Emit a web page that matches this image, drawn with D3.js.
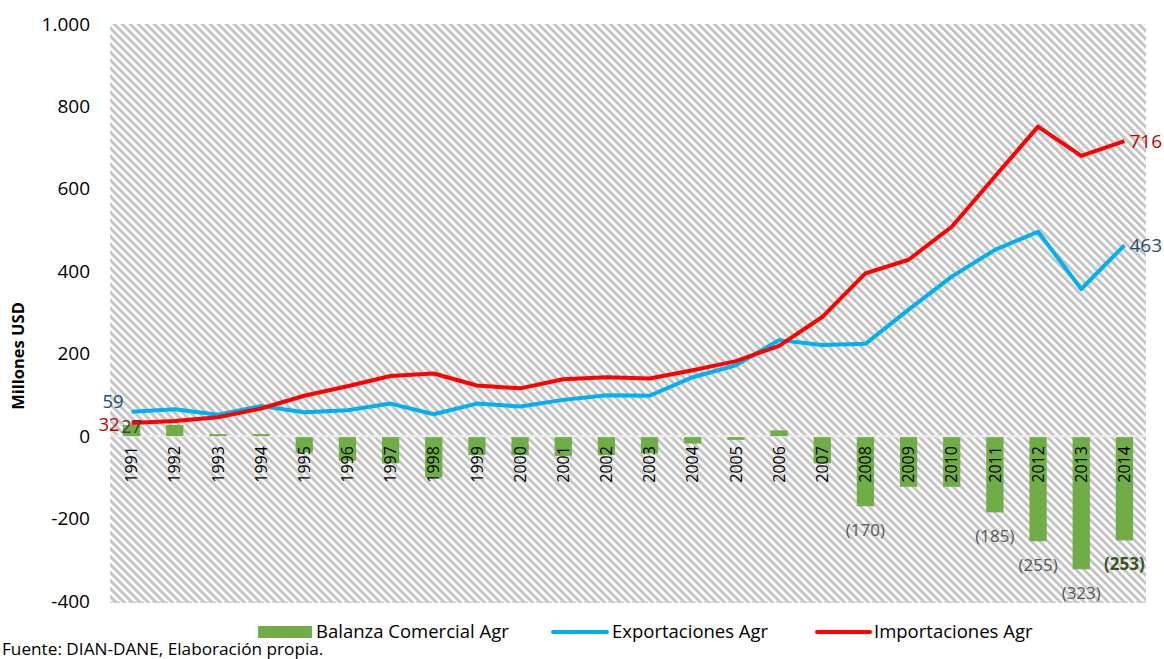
<!DOCTYPE html>
<html>
<head>
<meta charset="utf-8">
<script src="https://cdn.jsdelivr.net/npm/d3@7"></script>
<style>
  html, body { margin: 0; padding: 0; background: #ffffff; }
  svg { display: block; font-family: "Open Sans", "Noto Sans", sans-serif; }
</style>
</head>
<body>
<svg id="chart" width="1164" height="659"></svg>
<script>
// ---- data ----
const years = ["1991","1992","1993","1994","1995","1996","1997","1998","1999","2000","2001","2002",
               "2003","2004","2005","2006","2007","2008","2009","2010","2011","2012","2013","2014"];
const exportaciones = [59, 65, 52, 73, 58, 63, 79, 53, 79, 72, 88, 99,
                       98, 143, 172, 233, 221, 224, 307, 387, 452, 496, 357, 463];
const importaciones = [32, 37, 46, 67, 98, 121, 146, 152, 123, 116, 138, 143,
                       140, 160, 182, 219, 289, 395, 428, 508, 630, 751, 680, 716];
const balanza = [27, 27, 5, 5, -40, -60, -66, -100, -46, -46, -48, -46,
                 -42, -18, -9, 14, -66, -170, -123, -123, -185, -255, -323, -253];
const yTicks = [-400, -200, 0, 200, 400, 600, 800, 1000];
const barLabelYears = ["2008", "2011", "2012", "2013", "2014"];
const seriesNames = ["Balanza Comercial Agr", "Exportaciones Agr", "Importaciones Agr"];

(function () {
// ---- layout ----
const svg = d3.select("#chart");
const pLeft = 110, pRight = 1146, pTop = 24, pBottom = 601;

const x = d3.scaleBand().domain(years).range([pLeft, pRight]).paddingInner(0.6).paddingOuter(0.3);
const y = d3.scaleLinear().domain([-400, 1000]).range([pBottom, pTop]);
const cx = d => x(d) + x.bandwidth() / 2;

// hatch pattern
const defs = svg.append("defs");
const pat = defs.append("pattern")
  .attr("id", "hatch").attr("patternUnits", "userSpaceOnUse")
  .attr("width", 5.66).attr("height", 10)
  .attr("patternTransform", "rotate(-45)");
pat.append("rect").attr("width", 5.66).attr("height", 10).attr("fill", "#ffffff");
pat.append("rect").attr("width", 3.0).attr("height", 10).attr("fill", "#c4c4c4");

svg.append("rect").attr("x", pLeft).attr("y", pTop)
  .attr("width", pRight - pLeft).attr("height", pBottom - pTop + 2)
  .attr("fill", "url(#hatch)");

// y axis (labels only)
const yAxis = d3.axisLeft(y).tickValues(yTicks).tickSize(0).tickPadding(0)
  .tickFormat(d => d3.format(",")(d).replace(/,/g, ".").replace("\u2212", "-"));
const gy = svg.append("g").attr("transform", `translate(90,0)`).call(yAxis);
gy.select(".domain").remove();
gy.selectAll("text").attr("font-size", 19).attr("fill", "#000").attr("font-family", "Open Sans");

// axis title
svg.append("text")
  .attr("transform", `translate(24,356) rotate(-90)`)
  .attr("text-anchor", "middle")
  .attr("font-size", 16.5).attr("font-weight", "bold").attr("fill", "#000")
  .text("Millones USD");

// zero line & bottom line
svg.append("line").attr("x1", pLeft).attr("x2", pRight).attr("y1", y(0)).attr("y2", y(0))
  .attr("stroke", "#ececec").attr("stroke-width", 2);
svg.append("line").attr("x1", pLeft).attr("x2", pRight).attr("y1", pBottom + 1).attr("y2", pBottom + 1)
  .attr("stroke", "#d0d0d0").attr("stroke-width", 1.5).attr("stroke-dasharray", "4,2");

// bars
svg.append("g").selectAll("rect").data(years).join("rect")
  .attr("x", d => x(d))
  .attr("width", x.bandwidth())
  .attr("y", (d, i) => balanza[i] >= 0 ? y(balanza[i]) : y(0) + 1)
  .attr("height", (d, i) => Math.max(1.5, Math.abs(y(balanza[i]) - y(0)) - (balanza[i] < 0 ? 1 : 0)))
  .attr("fill", "#70ad47");

// year labels (rotated)
const xAxis = d3.axisBottom(x).tickSize(0).tickPadding(0);
const gx = svg.append("g").attr("transform", `translate(0,${y(0)})`).call(xAxis);
gx.select(".domain").remove();
gx.selectAll("text")
  .attr("font-size", 16).attr("fill", "#000").attr("font-family", "Open Sans")
  .attr("transform", "rotate(-90)")
  .attr("text-anchor", "end").attr("dy", "0.35em")
  .attr("x", -10).attr("y", 0);

// lines
const line = arr => d3.line().x((d, i) => cx(years[i])).y(d => y(d))(arr);
svg.append("path").attr("d", line(exportaciones)).attr("fill", "none")
  .attr("stroke", "#00b0f0").attr("stroke-width", 4).attr("stroke-linejoin", "round");
svg.append("path").attr("d", line(importaciones)).attr("fill", "none")
  .attr("stroke", "#ff0000").attr("stroke-width", 4).attr("stroke-linejoin", "round");

// bar value labels
const fmtNeg = v => v < 0 ? `(${Math.abs(v)})` : `${v}`;
barLabelYears.forEach(yr => {
  const i = years.indexOf(yr);
  const last = yr === "2014";
  svg.append("text")
    .attr("x", cx(yr)).attr("y", y(balanza[i]) + 30)
    .attr("text-anchor", "middle")
    .attr("font-size", 17)
    .attr("font-weight", last ? "bold" : "normal")
    .attr("fill", last ? "#375623" : "#595959")
    .text(fmtNeg(balanza[i]));
});
// first bar label
svg.append("text").attr("x", cx("1991")).attr("y", y(balanza[0]) + 8)
  .attr("text-anchor", "middle").attr("font-size", 18).attr("fill", "#404040")
  .text(balanza[0]);

// line end labels
const n = years.length - 1;
svg.append("text").attr("x", cx(years[0]) - 8).attr("y", y(exportaciones[0]) - 4)
  .attr("text-anchor", "end").attr("font-size", 18.5).attr("fill", "#1f4e79").text(exportaciones[0]);
svg.append("text").attr("x", cx(years[0]) - 12).attr("y", y(importaciones[0]) + 8)
  .attr("text-anchor", "end").attr("font-size", 18.5).attr("fill", "#c00000").text(importaciones[0]);
svg.append("text").attr("x", cx(years[n]) + 5).attr("y", y(importaciones[n]) + 7)
  .attr("text-anchor", "start").attr("font-size", 19).attr("fill", "#c00000").text(importaciones[n]);
svg.append("text").attr("x", cx(years[n]) + 5).attr("y", y(exportaciones[n]) + 7)
  .attr("text-anchor", "start").attr("font-size", 19).attr("fill", "#1f4e79").text(exportaciones[n]);

// legend
const ly = 632;
const lg = svg.append("g");
lg.append("rect").attr("x", 258).attr("y", ly - 6).attr("width", 54).attr("height", 12).attr("fill", "#70ad47");
lg.append("text").attr("x", 316).attr("y", ly).attr("dy", "0.35em").attr("font-size", 18.5).attr("fill", "#000").text(seriesNames[0]);
lg.append("line").attr("x1", 553).attr("x2", 607).attr("y1", ly).attr("y2", ly)
  .attr("stroke", "#00b0f0").attr("stroke-width", 4).attr("stroke-linecap", "round");
lg.append("text").attr("x", 612).attr("y", ly).attr("dy", "0.35em").attr("font-size", 18.5).attr("fill", "#000").text(seriesNames[1]);
lg.append("line").attr("x1", 817).attr("x2", 870).attr("y1", ly).attr("y2", ly)
  .attr("stroke", "#ff0000").attr("stroke-width", 4).attr("stroke-linecap", "round");
lg.append("text").attr("x", 874).attr("y", ly).attr("dy", "0.35em").attr("font-size", 18.5).attr("fill", "#000").text(seriesNames[2]);

// source
svg.append("text").attr("x", 2).attr("y", 655).attr("font-size", 17.2).attr("fill", "#000")
  .text("Fuente: DIAN-DANE, Elaboración propia.");
})();
</script>
</body>
</html>
